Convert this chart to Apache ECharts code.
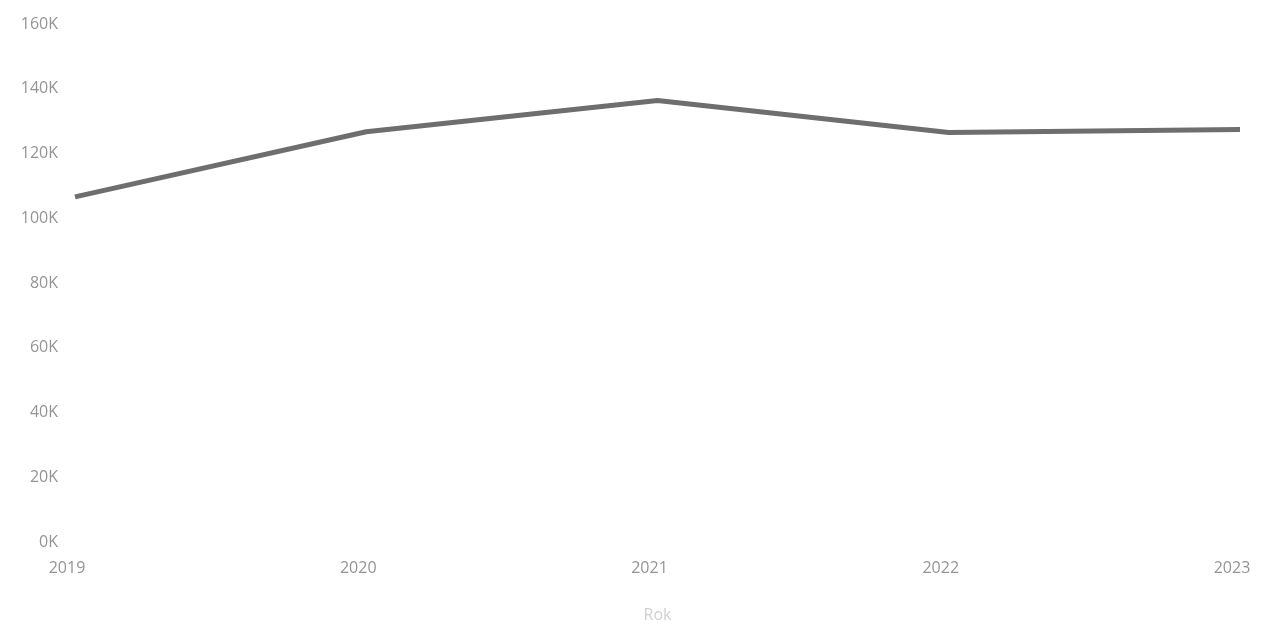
<!DOCTYPE html>
<html>
<head>
<meta charset="utf-8">
<script src="https://cdn.jsdelivr.net/npm/echarts@6/dist/echarts.min.js"></script>
<style>
  html, body { margin: 0; padding: 0; background: #fff; }
  #chart { width: 1266px; height: 628px; }
</style>
</head>
<body>
<div id="chart"></div>
<script>
  // years on the x axis
  var years = ['2019', '2020', '2021', '2022', '2023'];
  // values
  var values = [106600, 126700, 136400, 126500, 127400];

  var chart = echarts.init(document.getElementById('chart'));

  var option = {
    animation: false,
    grid: {
      left: 75,
      right: 26,
      top: 24,
      bottom: 70
    },
    xAxis: {
      type: 'category',
      data: years,
      boundaryGap: false,
      name: 'Rok',
      nameLocation: 'middle',
      nameGap: 65,
      nameTextStyle: {
        color: '#d0d0d0',
        fontSize: 16,
        fontFamily: 'Open Sans'
      },
      axisLine: { show: false },
      axisTick: { show: false },
      axisLabel: {
        color: '#949494',
        fontSize: 16,
        fontFamily: 'Open Sans',
        margin: 18,
        padding: [0, 16, 0, 0]
      }
    },
    yAxis: {
      type: 'value',
      min: 0,
      max: 160000,
      interval: 20000,
      splitLine: { show: false },
      axisLine: { show: false },
      axisTick: { show: false },
      axisLabel: {
        color: '#949494',
        fontSize: 16,
        fontFamily: 'Open Sans',
        margin: 17,
        formatter: function (v) {
          return (v / 1000) + 'K';
        }
      }
    },
    series: [{
      type: 'line',
      data: values,
      symbol: 'none',
      lineStyle: {
        color: '#6e6e6e',
        width: 5
      }
    }]
  };

  chart.setOption(option);
</script>
</body>
</html>
